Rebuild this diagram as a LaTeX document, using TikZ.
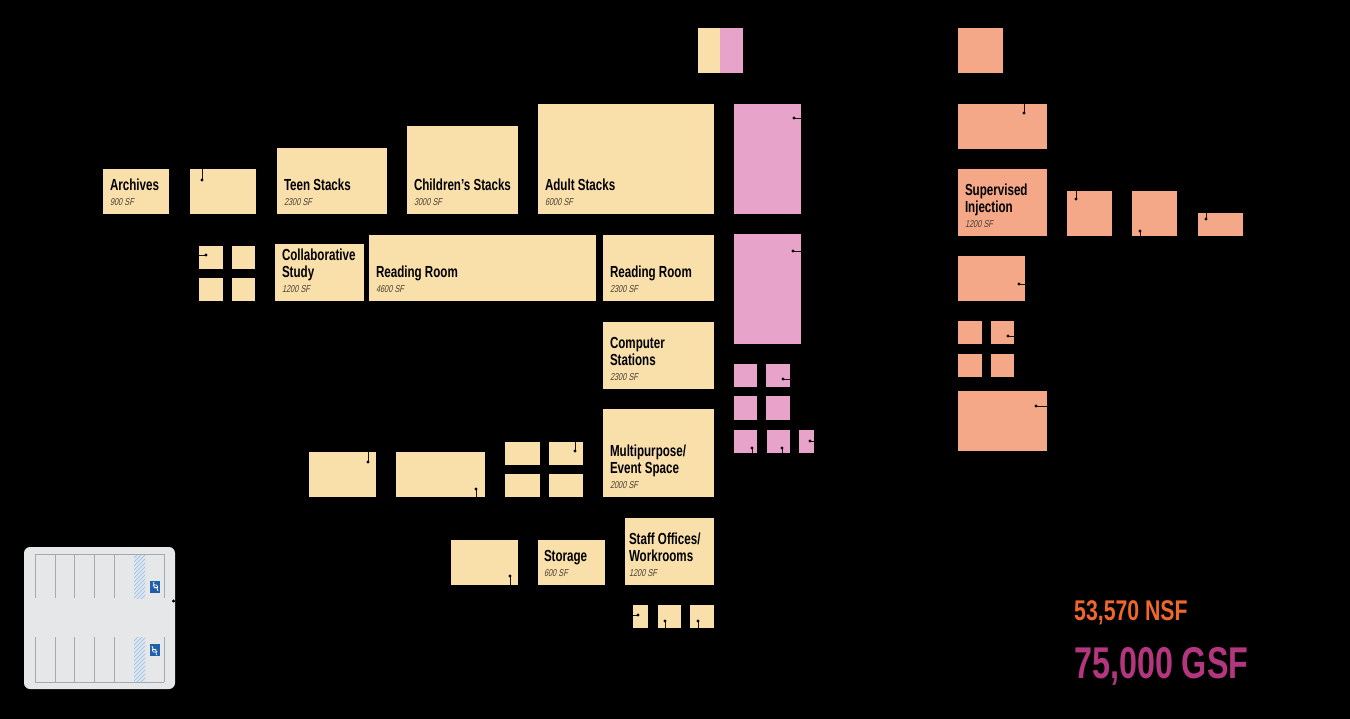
\documentclass[tikz,border=0pt]{standalone}
\usepackage{fontspec}
\setmainfont[FakeStretch=0.725]{Liberation Sans}
\newfontfamily\sfnote[FakeStretch=0.74]{Liberation Sans}
\newfontfamily\totalsa[FakeStretch=0.746]{Liberation Sans}
\newfontfamily\totalsb[FakeStretch=0.726]{Liberation Sans}
\definecolor{creamc}{HTML}{F9E0AB}
\definecolor{pinkc}{HTML}{E8A3CB}
\definecolor{salmonc}{HTML}{F4A887}
\definecolor{parkc}{HTML}{E6E7E8}
\definecolor{stallc}{HTML}{A7A9AC}
\definecolor{hatchc}{HTML}{A9C6DE}
\definecolor{badgec}{HTML}{1F5FAE}
\definecolor{nsfc}{HTML}{F0672B}
\definecolor{gsfc}{HTML}{B3367F}
\definecolor{notec}{HTML}{4A3F33}
\tikzset{
  room/.style={anchor=north west,inner sep=0pt,outer sep=0pt,draw=none},
  lbl/.style={anchor=south west,inner sep=0pt,outer sep=0pt,align=left,text=black,font=\bfseries\fontsize{16}{17}\selectfont},
  leadline/.style={draw=black!85!brown,line width=0.8pt},
  leaddot/.style={circle,fill=black,inner sep=0pt,minimum size=3.4pt},
  stall/.style={draw=stallc,line width=0.7pt},
  total/.style={anchor=base west,inner sep=0pt}
}
\newcommand{\bx}[6]{\node[room,fill=#6,minimum width={(#4-#2)*1pt},minimum height={(#5-#3)*1pt}] (#1) at (#2,#3) {};}
\newcommand{\rl}[5]{\node[lbl] (#1) at (#2,#3) {#4\\[-2.5pt]{\sfnote\mdseries\fontsize{10}{11}\selectfont\addfontfeature{FakeSlant=0.2}\color{notec} #5}};}
\newcommand{\lv}[4]{\coordinate (#1d) at (#2,#3); \draw[leadline] (#1d |- #4) -- (#1d); \node[leaddot] at (#1d) {};}
\newcommand{\lh}[4]{\coordinate (#1d) at (#2,#3); \draw[leadline] (#1d -| #4) -- (#1d); \node[leaddot] at (#1d) {};}
\begin{document}
\begin{tikzpicture}[x=1pt,y=-1pt]
\useasboundingbox (0,0) rectangle (1350,719);
\fill[black] (0,0) rectangle (1350,719);
\bx{kc}{698}{28}{720}{73}{creamc}
\bx{kp}{720}{28}{743}{73}{pinkc}
\bx{arch}{103}{169}{169}{214}{creamc}
\bx{c1}{190}{169}{256}{214}{creamc}
\bx{teen}{277}{148}{387}{214}{creamc}
\bx{child}{407}{126}{518}{214}{creamc}
\bx{adult}{538}{104}{714}{214}{creamc}
\bx{s1}{199}{246}{223}{269}{creamc}
\bx{s2}{232}{246}{255}{269}{creamc}
\bx{s3}{199}{278}{223}{301}{creamc}
\bx{s4}{232}{278}{255}{301}{creamc}
\bx{coll}{275}{244}{364}{301}{creamc}
\bx{read}{369}{235}{596}{301}{creamc}
\bx{readb}{603}{235}{714}{301}{creamc}
\bx{comp}{603}{322}{714}{389}{creamc}
\bx{multi}{603}{409}{714}{497}{creamc}
\bx{m1}{309}{452}{376}{497}{creamc}
\bx{m2}{396}{452}{485}{497}{creamc}
\bx{m3}{505}{442}{540}{465}{creamc}
\bx{m4}{549}{442}{583}{465}{creamc}
\bx{m5}{505}{474}{540}{497}{creamc}
\bx{m6}{549}{474}{583}{497}{creamc}
\bx{st1}{451}{540}{518}{585}{creamc}
\bx{stor}{538}{540}{605}{585}{creamc}
\bx{staff}{625}{518}{714}{585}{creamc}
\bx{t1}{633}{605}{648}{628}{creamc}
\bx{t2}{658}{605}{681}{628}{creamc}
\bx{t3}{690}{605}{714}{628}{creamc}
\bx{p1}{734}{104}{801}{214}{pinkc}
\bx{p2}{734}{234}{801}{344}{pinkc}
\bx{p3}{734}{364}{757}{387}{pinkc}
\bx{p4}{766}{364}{790}{387}{pinkc}
\bx{p5}{734}{396}{757}{420}{pinkc}
\bx{p6}{766}{396}{790}{420}{pinkc}
\bx{p7}{734}{430}{757}{453}{pinkc}
\bx{p8}{767}{430}{790}{453}{pinkc}
\bx{p9}{799}{430}{814}{453}{pinkc}
\bx{o1}{958}{28}{1003}{73}{salmonc}
\bx{o2}{958}{104}{1047}{149}{salmonc}
\bx{sup}{958}{169}{1047}{236}{salmonc}
\bx{o3}{1067}{191}{1112}{236}{salmonc}
\bx{o4}{1132}{191}{1177}{236}{salmonc}
\bx{o5}{1198}{213}{1243}{236}{salmonc}
\bx{o6}{958}{256}{1025}{301}{salmonc}
\bx{o7}{958}{321}{982}{344}{salmonc}
\bx{o8}{991}{321}{1014}{344}{salmonc}
\bx{o9}{958}{354}{982}{377}{salmonc}
\bx{o10}{991}{354}{1014}{377}{salmonc}
\bx{o11}{958}{391}{1047}{451}{salmonc}
\rl{larch}{110}{205.5}{Archives}{900 SF}
\rl{lteen}{284}{205.5}{Teen Stacks}{2300 SF}
\rl{lchild}{414}{205.5}{Children's Stacks}{3000 SF}
\rl{ladult}{545}{205.5}{Adult Stacks}{6000 SF}
\rl{lcoll}{282}{292.5}{Collaborative\\Study}{1200 SF}
\rl{lread}{376}{292.5}{Reading Room}{4600 SF}
\rl{lreadb}{610}{292.5}{Reading Room}{2300 SF}
\rl{lcomp}{610}{380.5}{Computer\\Stations}{2300 SF}
\rl{lmulti}{610}{488.5}{Multipurpose/\\Event Space}{2000 SF}
\rl{lstor}{544}{576.5}{Storage}{600 SF}
\rl{lstaff}{629}{576.5}{Staff Offices/\\Workrooms}{1200 SF}
\rl{lsup}{965}{227.5}{Supervised\\Injection}{1200 SF}
\lv{c1}{202}{180}{c1.north}
\lh{s1}{206}{255}{s1.west}
\lv{m1}{368}{462}{m1.north}
\lv{m2}{476}{489}{m2.south}
\lv{m4}{575}{451}{m4.north}
\lv{st1}{510}{576}{st1.south}
\lh{t1}{638}{615}{t1.west}
\lv{t2}{665}{621}{t2.south}
\lv{t3}{698}{621}{t3.south}
\lh{p1}{794}{118}{p1.east}
\lh{p2}{793}{251}{p2.east}
\lh{p4}{783}{379}{p4.east}
\lv{p7}{752}{448}{p7.south}
\lv{p8}{782}{448}{p8.south}
\lh{p9}{810}{441}{p9.east}
\lv{o2}{1024}{113}{o2.north}
\lv{o3}{1076}{199}{o3.north}
\lv{o4}{1140}{231}{o4.south}
\lv{o5}{1206}{219}{o5.north}
\lh{o6}{1019}{284}{o6.east}
\lh{o8}{1008}{336}{o8.east}
\lh{o11}{1036}{406}{o11.east}
\node[room,fill=parkc,rounded corners=6pt,minimum width=151pt,minimum height=142pt] (park) at (24,547) {};
\fill[white!60!hatchc] (134,554) rectangle (145,598);
\fill[white!60!hatchc] (134,637) rectangle (145,682);
\begin{scope}
\clip (134,554) rectangle (145,598);
\foreach \k in {0,4,...,64} {\draw[hatchc,line width=0.9pt] (130,554+\k) -- (150,554+\k-20);}
\end{scope}
\begin{scope}
\clip (134,637) rectangle (145,682);
\foreach \k in {0,4,...,64} {\draw[hatchc,line width=0.9pt] (130,637+\k) -- (150,637+\k-20);}
\end{scope}
\draw[stall] (35,554) -- (164,554);
\draw[stall] (35,682) -- (164,682);
\foreach \xx in {35,55,74,94,114,164} {
  \draw[stall] (\xx,554) -- (\xx,598);
  \draw[stall] (\xx,637) -- (\xx,682);
}
\fill[badgec] (150,581) rectangle (160,593);
\fill[badgec] (150,644) rectangle (160,656);
\fill[white] (153.6,582.8) circle (0.85pt);
\draw[white,line width=0.8pt] (153.8,584) -- (154.2,587.6) -- (156.7,587.6) -- (158,590.8);
\draw[white,line width=0.7pt] (152.9,586) arc[start angle=150,end angle=-20,radius=2.6pt];
\fill[white] (156.4,654.2) circle (0.85pt);
\draw[white,line width=0.8pt] (156.2,653) -- (155.8,649.4) -- (153.3,649.4) -- (152,646.2);
\draw[white,line width=0.7pt] (157.1,651) arc[start angle=-30,end angle=-200,radius=2.6pt];
\lh{park}{173.5}{601}{park.east}
\node[total,text=nsfc,font=\totalsa\bfseries\fontsize{28.5}{30}\selectfont] (nsf) at (1074,620.5) {53,570 NSF};
\node[total,text=gsfc,font=\totalsb\bfseries\fontsize{44.5}{48}\selectfont] (gsf) at (1074,678) {75,000 GSF};
\end{tikzpicture}
\end{document}
